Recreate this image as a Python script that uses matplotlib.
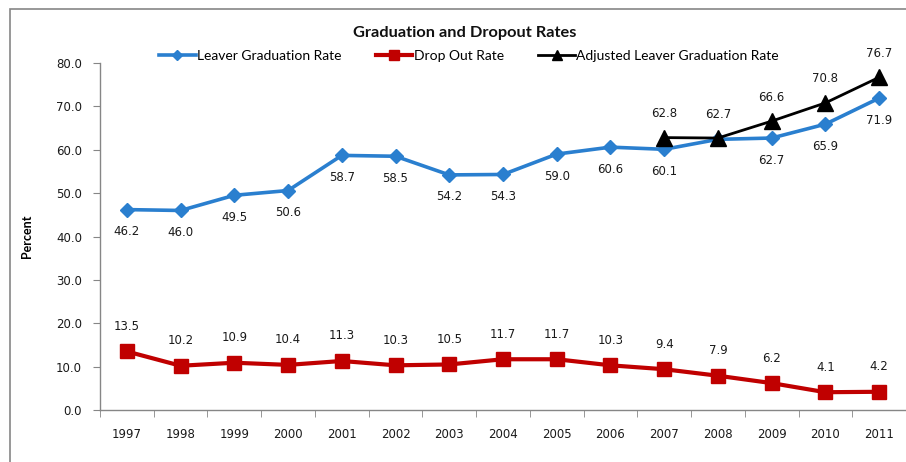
import matplotlib
matplotlib.use("Agg")
import matplotlib.pyplot as plt
from matplotlib.patches import Rectangle
import numpy as np

years = ["1997", "1998", "1999", "2000", "2001", "2002", "2003", "2004",
         "2005", "2006", "2007", "2008", "2009", "2010", "2011"]
leaver = [46.2, 46.0, 49.5, 50.6, 58.7, 58.5, 54.2, 54.3, 59.0, 60.6,
          60.1, 62.4, 62.7, 65.9, 71.9]
leaver_show_label = [True] * 11 + [False] + [True] * 3
dropout = [13.5, 10.2, 10.9, 10.4, 11.3, 10.3, 10.5, 11.7, 11.7, 10.3,
           9.4, 7.9, 6.2, 4.1, 4.2]
adj_years = ["2007", "2008", "2009", "2010", "2011"]
adjusted = [62.8, 62.7, 66.6, 70.8, 76.7]

title = "Graduation and Dropout Rates"
ylabel = "Percent"
yticks = [0, 10, 20, 30, 40, 50, 60, 70, 80]

BLUE = "#2a7fcf"
RED = "#c00000"
BLACK = "#000000"
GRAY = "#868686"
TXT = "#1a1a1a"

fig = plt.figure(figsize=(9.06, 4.62), dpi=100)
ax = fig.add_axes([100 / 906, 52 / 462, 806 / 906, 347 / 462])

x = np.arange(len(years))
adj_x = np.array([years.index(y) for y in adj_years])

l1, = ax.plot(x, leaver, color=BLUE, lw=2.6, marker="D", ms=7.5, mfc=BLUE, mec=BLUE,
              label="Leaver Graduation Rate", zorder=3)
l2, = ax.plot(x, dropout, color=RED, lw=3.0, marker="s", ms=10, mfc=RED, mec=RED,
              label="Drop Out Rate", zorder=3)
l3, = ax.plot(adj_x, adjusted, color=BLACK, lw=2.0, marker="^", ms=11, mfc=BLACK, mec=BLACK,
              label="Adjusted Leaver Graduation Rate", zorder=4)

lab_kw = dict(ha="center", va="center", fontsize=8.5, color=TXT, family="DejaVu Sans")
for xi, v, show in zip(x, leaver, leaver_show_label):
    if show:
        ax.annotate(f"{v:.1f}", (xi, v), xytext=(0, -22), textcoords="offset pixels", **lab_kw)
for xi, v in zip(x, dropout):
    ax.annotate(f"{v:.1f}", (xi, v), xytext=(0, 25), textcoords="offset pixels", **lab_kw)
for xi, v in zip(adj_x, adjusted):
    ax.annotate(f"{v:.1f}", (xi, v), xytext=(0, 24), textcoords="offset pixels", **lab_kw)

ax.set_xlim(-0.5, len(years) - 0.5)
ax.set_ylim(0, 80)
ax.set_yticks(yticks)
ax.set_yticklabels([f"{t:.1f}" for t in yticks], fontsize=8.5, color=TXT, family="DejaVu Sans")
ax.set_xticks(x)
ax.set_xticklabels(years, fontsize=8.5, color=TXT, family="DejaVu Sans")
ax.set_xticks(np.arange(-0.5, len(years)), minor=True)
ax.tick_params(axis="x", which="major", length=0, pad=13)
ax.tick_params(axis="x", which="minor", length=5, color=GRAY, direction="out")
ax.tick_params(axis="y", length=5, color=GRAY, direction="out", pad=8)

for s in ["top", "right"]:
    ax.spines[s].set_visible(False)
for s in ["left", "bottom"]:
    ax.spines[s].set_color(GRAY)
    ax.spines[s].set_linewidth(1.0)

ax.set_ylabel(ylabel, fontsize=9, fontweight="bold", family="Lato")
ax.yaxis.set_label_coords(-0.083, 0.5)

fig.text(465 / 906, 1 - 33 / 462, title, ha="center", va="center", fontsize=11.8,
         fontweight="bold", family="Lato", color="#111111")

leg = fig.legend(handles=[l1, l2, l3], loc="center", bbox_to_anchor=(469 / 906, 1 - 56 / 462),
                 ncol=3, frameon=False, prop={"family": "Lato", "size": 10},
                 handlelength=2.6, handletextpad=0.1, columnspacing=2.5, markerscale=0.7)

fig.patches.append(Rectangle((10 / 906, -0.2), 2.0, 1.2 - 9 / 462,
                             transform=fig.transFigure, fill=False, edgecolor=GRAY, lw=1.2))

fig.savefig("out.png", dpi=100)
